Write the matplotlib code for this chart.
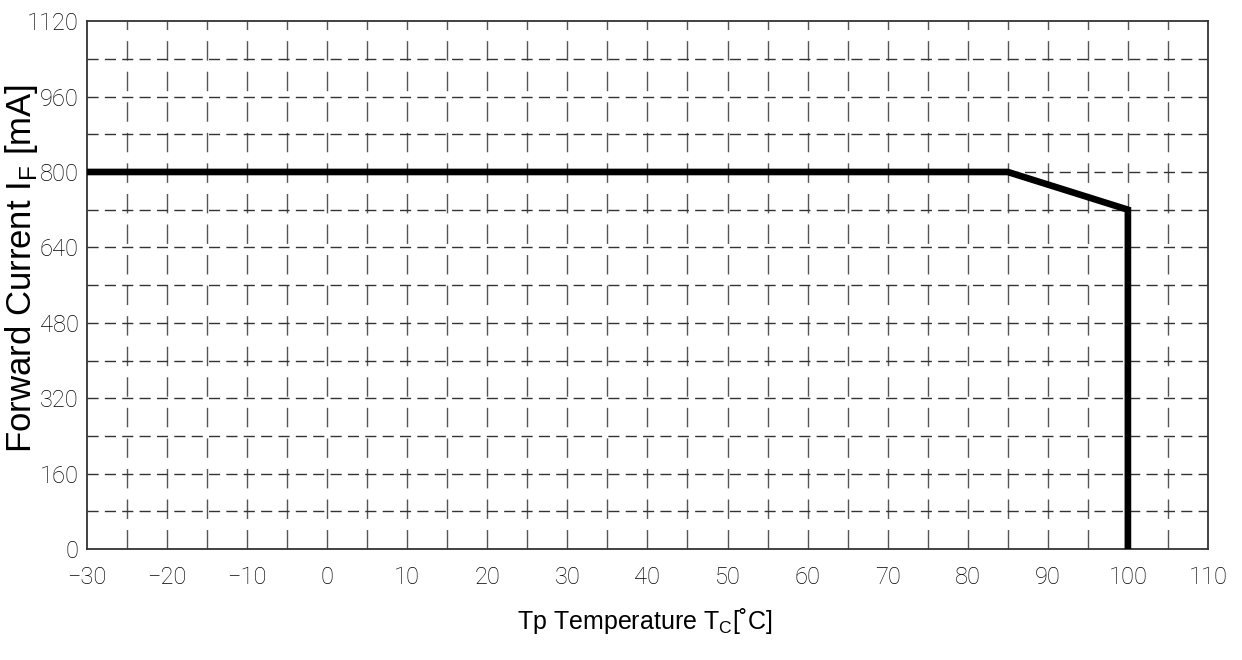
import numpy as np
import matplotlib.pyplot as plt

# derating curve
temp = [-30, 85, 100, 100]
current = [800, 800, 720, 0]

x_ticks = list(range(-30, 111, 10))
y_ticks = list(range(0, 1121, 160))
x_grid = list(range(-25, 110, 5))
y_grid = list(range(80, 1120, 80))

tick_font = ['Roboto', 'DejaVu Sans']
label_font = ['Liberation Sans', 'DejaVu Sans']

fig = plt.figure(figsize=(12.42, 6.6), dpi=100)
ax = fig.add_axes([0.070, 0.168, 0.9026, 0.800])

for xg in x_grid:
    ax.axvline(xg, color='#555555', lw=1.0, ls=(0, (14, 8)), zorder=1)
for yg in y_grid:
    ax.axhline(yg, color='#333333', lw=1.0, ls=(0, (8, 4.5)), zorder=1)

ax.plot(temp, current, color='black', lw=4.8, solid_capstyle='round',
        solid_joinstyle='miter', zorder=3)

ax.set_xlim(-30, 110)
ax.set_ylim(0, 1120)
ax.set_xticks(x_ticks)
ax.set_yticks(y_ticks)
ax.set_xticklabels(['\u2212' + str(-v) if v < 0 else str(v) for v in x_ticks],
                   family=tick_font, fontweight='light', fontsize=17, color='#000000')
ax.set_yticklabels([str(v) for v in y_ticks], family=tick_font, fontweight='light',
                   fontsize=17, color='#000000')
ax.tick_params(length=0, pad=6)
ax.tick_params(axis='x', pad=12)

for s in ax.spines.values():
    s.set_color('#333333')
    s.set_linewidth(1.3)

ax.set_ylabel('Forward Current I$_\\mathregular{F}$ [mA]', family=label_font,
              fontsize=25)
ax.yaxis.set_label_coords(-0.058, 0.532)
ax.yaxis.label.set_va('center')
ax.set_xlabel('Tp Temperature T$_\\mathregular{C}$[\u02daC]', family=label_font,
              fontsize=18)
ax.xaxis.set_label_coords(0.498, -0.136)
ax.xaxis.label.set_va('center')

fig.savefig('out.png', dpi=100)
